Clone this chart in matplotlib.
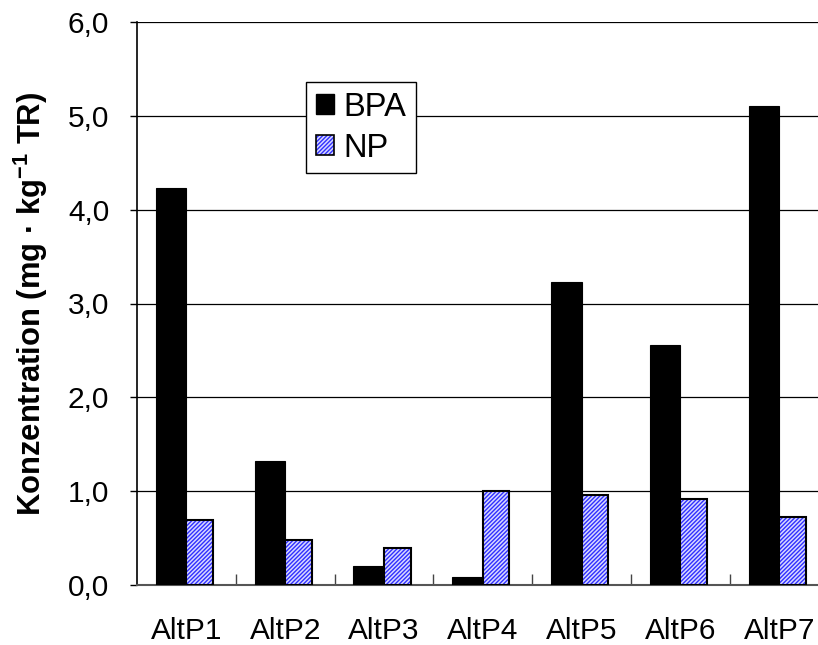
import numpy as np
import matplotlib
matplotlib.use("Agg")
import matplotlib.pyplot as plt
from matplotlib.patches import Patch
from matplotlib.ticker import FixedLocator, FuncFormatter

plt.rcParams['font.family'] = ['Liberation Sans', 'DejaVu Sans']
plt.rcParams['mathtext.fontset'] = 'custom'
plt.rcParams['mathtext.rm'] = 'Liberation Sans'
plt.rcParams['mathtext.bf'] = 'Liberation Sans:bold'
plt.rcParams['hatch.linewidth'] = 1.0

# data
stellen = ['AltP1', 'AltP2', 'AltP3', 'AltP4', 'AltP5', 'AltP6', 'AltP7']
bpa = [4.23, 1.32, 0.20, 0.08, 3.23, 2.56, 5.10]
np_werte = [0.69, 0.48, 0.39, 1.00, 0.96, 0.92, 0.73]

x = np.arange(len(stellen))
w_bpa = 0.31
w_np = 0.27
blau = '#3030ff'
schraffur = '////////'

fig = plt.figure(figsize=(8.18, 6.45), dpi=100)
ax = fig.add_axes([137 / 818, 1 - 585 / 645, 1 - 137 / 818, (585 - 22) / 645])

ax.bar(x - w_bpa / 2, bpa, width=w_bpa, color='black', edgecolor='black',
       linewidth=0.8, zorder=3)
ax.bar(x + w_np / 2, np_werte, width=w_np, facecolor='#d8d8ff', edgecolor=blau,
       hatch=schraffur, linewidth=0, zorder=3)
ax.bar(x + w_np / 2, np_werte, width=w_np, fill=False, edgecolor='black',
       linewidth=1.5, zorder=4)

ax.set_xlim(-0.5, -0.5 + 681 / 98.8)
ax.set_ylim(0, 6)

ax.set_yticks(np.arange(0, 6.01, 1))
ax.yaxis.set_major_formatter(FuncFormatter(lambda v, p: f'{v:.1f}'.replace('.', ',')))
ax.tick_params(axis='y', direction='out', length=5, width=1, labelsize=21.5, pad=15)
ax.grid(axis='y', color='black', linewidth=0.9, zorder=1)

ax.set_xticks(x)
ax.set_xticklabels(stellen)
ax.xaxis.set_minor_locator(FixedLocator(x[:-1] + 0.5))
ax.tick_params(axis='x', which='major', length=0, labelsize=21.5, pad=23)
ax.tick_params(axis='x', which='minor', direction='in', length=8, width=1,
               color='#444444')

for s in ['top', 'right']:
    ax.spines[s].set_visible(False)
ax.spines['left'].set_linewidth(1.2)
ax.spines['bottom'].set_color('#555555')
ax.spines['bottom'].set_linewidth(1.5)

ax.set_ylabel('Konzentration (mg · kg$^{\\mathbf{-1}}$ TR)', fontsize=22.3,
              fontweight='bold')
ax.yaxis.set_label_coords(-0.128, 0.5)

h_bpa = Patch(facecolor='black', edgecolor='black')
h_np = (Patch(facecolor='#d8d8ff', edgecolor=blau, hatch=schraffur, linewidth=0),
        Patch(fill=False, edgecolor='black', linewidth=1.2))
leg = ax.legend([h_bpa, h_np], ['BPA', 'NP'], loc='upper left',
                bbox_to_anchor=((306 - 137) / 681, (585 - 82) / 563),
                fontsize=23.5, frameon=True, fancybox=False, edgecolor='black',
                framealpha=1, handlelength=0.55, handleheight=0.55,
                handletextpad=0.3, labelspacing=0.3, borderpad=0.3,
                borderaxespad=0)
leg.get_frame().set_linewidth(1)
leg.set_zorder(5)

fig.savefig('out.png', dpi=100)
